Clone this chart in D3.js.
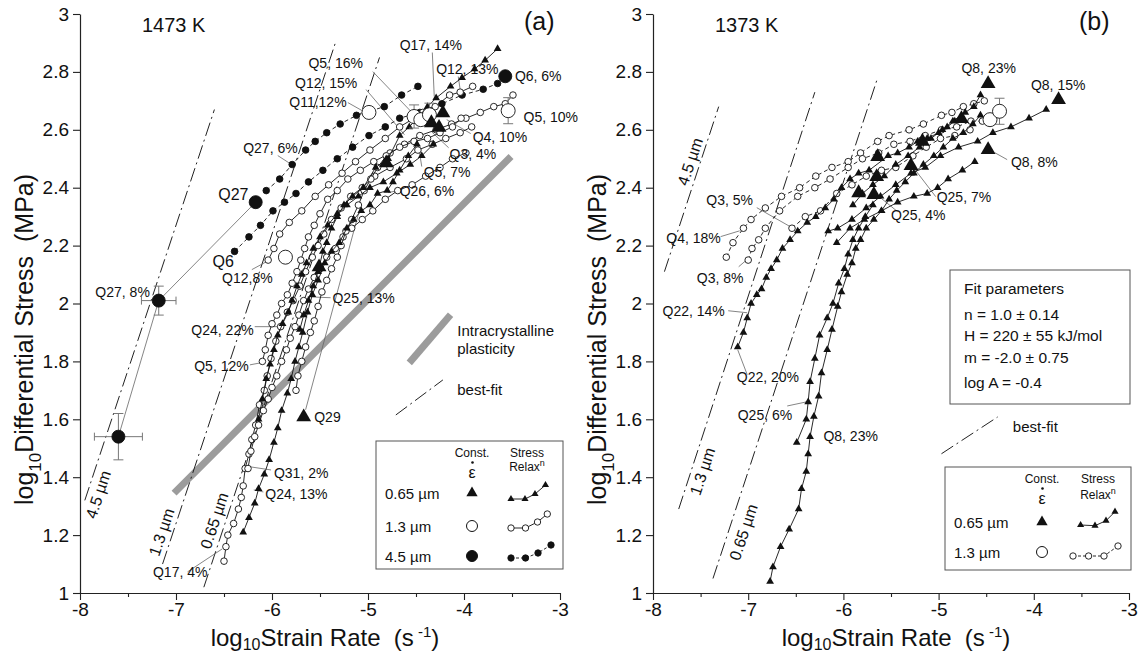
<!DOCTYPE html>
<html>
<head>
<meta charset="utf-8">
<script src="https://cdn.jsdelivr.net/npm/d3@7/dist/d3.min.js"></script>
<style>
  body { margin: 0; background: #fff; }
  svg { font-family: "Liberation Sans", Arial, Helvetica, sans-serif; }
</style>
</head>
<body>
<svg id="fig"></svg>
<script>
const x_ticks = [-8, -7.5, -7, -6.5, -6, -5.5, -5, -4.5, -4, -3.5, -3];
const y_ticks = [1, 1.2, 1.4, 1.6, 1.8, 2, 2.2, 2.4, 2.6, 2.8, 3];

// ---- (a) 1473 K ----
// stress relaxation runs, 4.5 um (filled dots, dashed)
const a_q27_6 = [[-6.06,2.39],[-5.92,2.43],[-5.79,2.48],[-5.65,2.53],[-5.55,2.56],[-5.43,2.59],[-5.29,2.62],[-5.12,2.65],[-4.83,2.68],[-4.65,2.72],[-4.48,2.75]];
const a_q6 = [[-6.39,2.18],[-6.24,2.23],[-6.12,2.27],[-5.99,2.32],[-5.87,2.35],[-5.75,2.38],[-5.62,2.42],[-5.47,2.46],[-5.32,2.50],[-5.16,2.54],[-4.99,2.58],[-4.82,2.61],[-4.67,2.64],[-4.46,2.66],[-4.23,2.69],[-4.02,2.72],[-3.80,2.74],[-3.65,2.76]];
// 1.3 um (open circles)
const a_q12_8 = [[-6.04,2.15],[-5.98,2.19],[-5.92,2.24],[-5.82,2.28],[-5.69,2.32],[-5.55,2.37],[-5.41,2.41],[-5.27,2.45],[-5.13,2.49],[-4.98,2.53],[-4.82,2.57],[-4.67,2.61],[-4.52,2.64],[-4.43,2.66],[-4.30,2.68],[-4.15,2.72],[-4.04,2.73],[-3.91,2.75]];
const a_q5_12 = [[-6.10,1.80],[-6.07,1.84],[-6.04,1.89],[-6.00,1.93],[-5.95,1.96],[-5.90,2.00],[-5.84,2.03],[-5.79,2.07],[-5.74,2.11],[-5.70,2.15],[-5.66,2.19],[-5.62,2.23],[-5.56,2.27],[-5.50,2.31],[-5.42,2.36],[-5.32,2.39],[-5.21,2.43],[-5.08,2.46],[-4.94,2.49],[-4.77,2.52],[-4.62,2.55],[-4.46,2.58],[-4.29,2.60],[-4.13,2.62],[-3.98,2.64],[-3.83,2.66],[-3.69,2.68],[-3.57,2.69],[-3.49,2.72]];
const a_q17_4 = [[-6.50,1.11],[-6.48,1.16],[-6.46,1.20],[-6.40,1.24],[-6.35,1.29],[-6.32,1.33],[-6.30,1.37],[-6.28,1.43],[-6.24,1.48],[-6.21,1.53],[-6.17,1.58],[-6.13,1.65],[-6.08,1.70],[-6.05,1.75],[-6.01,1.81],[-5.96,1.87],[-5.91,1.92],[-5.84,1.97],[-5.78,2.01],[-5.71,2.06],[-5.65,2.11],[-5.58,2.16],[-5.52,2.20],[-5.46,2.24],[-5.38,2.29],[-5.28,2.33],[-5.18,2.37],[-5.06,2.40],[-4.93,2.44],[-4.77,2.47],[-4.60,2.50],[-4.48,2.53],[-4.33,2.55],[-4.19,2.57],[-4.04,2.59],[-3.92,2.61]];
const a_q31_2 = [[-6.25,1.43],[-6.22,1.49],[-6.18,1.54],[-6.14,1.58],[-6.09,1.63],[-6.04,1.67],[-6.00,1.71],[-5.95,1.75],[-5.90,1.80],[-5.85,1.84],[-5.81,1.88],[-5.76,1.92],[-5.72,1.96],[-5.67,2.01],[-5.62,2.05],[-5.56,2.09],[-5.50,2.12],[-5.43,2.16],[-5.34,2.19],[-5.26,2.23],[-5.17,2.26],[-5.06,2.29],[-4.95,2.32],[-4.82,2.36],[-4.69,2.39],[-4.54,2.41],[-4.40,2.44],[-4.25,2.47],[-4.12,2.50],[-3.98,2.52]];
const a_q3_4 = [[-5.75,1.70],[-5.73,1.75],[-5.69,1.80],[-5.65,1.85],[-5.60,1.90],[-5.56,1.94],[-5.52,1.99],[-5.48,2.04],[-5.43,2.08],[-5.38,2.12],[-5.32,2.16],[-5.28,2.20],[-5.23,2.25],[-5.17,2.29],[-5.10,2.34],[-5.04,2.39],[-4.97,2.43],[-4.90,2.47],[-4.81,2.51],[-4.67,2.54],[-4.52,2.56],[-4.38,2.57],[-4.25,2.59],[-4.12,2.61],[-4.03,2.64]];
// 0.65 um (small triangles)
const a_q24_13 = [[-6.30,1.21],[-6.24,1.26],[-6.18,1.31],[-6.14,1.36],[-6.08,1.41],[-6.03,1.46],[-5.98,1.52],[-5.94,1.57],[-5.90,1.63],[-5.84,1.69],[-5.80,1.74],[-5.76,1.80],[-5.72,1.85],[-5.68,1.90],[-5.63,1.97],[-5.58,2.03],[-5.52,2.08],[-5.45,2.14],[-5.38,2.18],[-5.30,2.21],[-5.22,2.26],[-5.15,2.29],[-5.07,2.32],[-4.98,2.34],[-4.90,2.38],[-4.80,2.39],[-4.74,2.42],[-4.67,2.46],[-4.58,2.51],[-4.49,2.55]];
const a_q24_22 = [[-6.14,1.60],[-6.10,1.67],[-6.06,1.74],[-6.02,1.79],[-5.98,1.84],[-5.94,1.89],[-5.89,1.93],[-5.83,1.97],[-5.79,2.01],[-5.74,2.06],[-5.69,2.10],[-5.64,2.14],[-5.57,2.19],[-5.50,2.23],[-5.42,2.27],[-5.32,2.31],[-5.22,2.34],[-5.10,2.37],[-4.98,2.40],[-4.84,2.42],[-4.70,2.45],[-4.56,2.48],[-4.44,2.51],[-4.32,2.55]];
const a_q25_13 = [[-5.71,1.91],[-5.67,1.96],[-5.62,2.01],[-5.57,2.06],[-5.52,2.11],[-5.47,2.18],[-5.43,2.21],[-5.38,2.26],[-5.32,2.30],[-5.25,2.34],[-5.16,2.37],[-5.05,2.40],[-4.92,2.47],[-4.79,2.50],[-4.67,2.58],[-4.57,2.61],[-4.46,2.65],[-4.38,2.68],[-4.29,2.71],[-4.14,2.75],[-4.02,2.78],[-3.89,2.81],[-3.78,2.84],[-3.65,2.88]];
// constant strain-rate points
const a_const_dots = [[-6.17,2.35],[-3.57,2.785],[-7.18,2.01],[-7.60,1.54]];
const a_const_circles = [[-4.99,2.66],[-5.86,2.16],[-3.54,2.666],[-4.52,2.646],[-4.45,2.635],[-4.36,2.652]];
const a_const_tri = [[-4.22,2.658],[-4.34,2.624],[-4.26,2.608],[-4.81,2.485],[-5.51,2.126],[-5.67,1.608]];
// [x, y, xerr, yerr]
const a_err = [[-7.18,2.01,0.18,0.05],[-7.60,1.54,0.25,0.08],[-3.54,2.666,0,0.045],[-4.52,2.646,0,0.04],[-4.36,2.652,0,0.04]];

// ---- (b) 1373 K ----
const b_q8_23 = [[-6.77,1.04],[-6.74,1.09],[-6.66,1.16],[-6.57,1.22],[-6.47,1.29],[-6.44,1.36],[-6.39,1.42],[-6.37,1.48],[-6.35,1.54],[-6.31,1.61],[-6.26,1.68],[-6.23,1.76],[-6.17,1.84],[-6.12,1.91],[-6.06,1.99],[-6.02,2.04],[-5.96,2.10],[-5.91,2.14],[-5.87,2.19],[-5.82,2.22],[-5.76,2.26],[-5.68,2.29],[-5.60,2.32],[-5.52,2.36],[-5.44,2.39],[-5.35,2.42],[-5.26,2.45],[-5.16,2.48],[-5.05,2.51],[-4.95,2.54],[-4.85,2.57],[-4.74,2.59],[-4.64,2.62],[-4.56,2.65]];
const b_q25_6 = [[-6.49,1.52],[-6.39,1.60],[-6.37,1.66],[-6.35,1.73],[-6.30,1.81],[-6.25,1.89],[-6.17,1.95],[-6.11,2.00],[-6.05,2.07],[-5.99,2.12],[-5.95,2.17],[-5.90,2.22],[-5.84,2.26],[-5.77,2.30],[-5.69,2.34]];
const b_q22 = [[-7.11,1.85],[-7.05,1.90],[-7.01,1.95],[-6.97,2.00],[-6.91,2.03],[-6.86,2.05],[-6.81,2.09],[-6.76,2.12],[-6.70,2.15],[-6.64,2.19],[-6.56,2.22],[-6.48,2.25],[-6.38,2.28],[-6.29,2.30],[-6.19,2.33],[-6.10,2.36],[-6.02,2.40],[-5.93,2.43],[-5.84,2.45],[-5.73,2.46],[-5.53,2.51],[-5.43,2.52],[-5.31,2.54],[-5.22,2.56],[-5.12,2.57],[-5.00,2.59],[-4.91,2.61],[-4.83,2.63]];
const b_q8_top = [[-5.90,2.34],[-5.80,2.38],[-5.69,2.41],[-5.57,2.44],[-5.45,2.48],[-5.32,2.51],[-5.20,2.54],[-5.08,2.57],[-4.96,2.60],[-4.85,2.63],[-4.72,2.66],[-4.63,2.68],[-4.56,2.72]];
const b_q8_15 = [[-6.16,2.25],[-6.06,2.26],[-5.91,2.29],[-5.76,2.33],[-5.61,2.37],[-5.45,2.41],[-5.29,2.45],[-5.14,2.47],[-4.98,2.51],[-4.79,2.54],[-4.59,2.56],[-4.43,2.59],[-4.24,2.61],[-4.05,2.64],[-3.87,2.67]];
const b_q8_8 = [[-6.07,2.21],[-5.93,2.26],[-5.78,2.29],[-5.60,2.32],[-5.43,2.35],[-5.26,2.37],[-5.12,2.38],[-5.01,2.40],[-4.90,2.43],[-4.75,2.46],[-4.62,2.49]];
const b_q4_18 = [[-7.23,2.16],[-7.16,2.21],[-7.05,2.26],[-6.97,2.29],[-6.82,2.33],[-6.65,2.37],[-6.46,2.40],[-6.29,2.44],[-6.12,2.47],[-5.95,2.49],[-5.82,2.52],[-5.64,2.56],[-5.52,2.58],[-5.31,2.60],[-5.16,2.62],[-4.97,2.65],[-4.86,2.66],[-4.74,2.68],[-4.63,2.69],[-4.52,2.70]];
const b_q3_8 = [[-7.00,2.15],[-6.96,2.19],[-6.89,2.22],[-6.82,2.26],[-6.67,2.32],[-6.48,2.37],[-6.30,2.40],[-6.14,2.43],[-5.95,2.47],[-5.80,2.50],[-5.63,2.52],[-5.47,2.55],[-5.30,2.56],[-5.14,2.58],[-4.97,2.60],[-4.81,2.61],[-4.66,2.63],[-4.54,2.63]];
const b_q3_5 = [[-6.54,2.26],[-6.40,2.30],[-6.24,2.32],[-6.07,2.38],[-5.91,2.41],[-5.76,2.44],[-5.60,2.46],[-5.45,2.47],[-5.27,2.51],[-5.13,2.54],[-4.98,2.57],[-4.83,2.58],[-4.67,2.60]];
const b_const_tri = [[-5.84,2.382],[-5.68,2.376],[-5.65,2.438],[-5.64,2.507],[-5.29,2.476],[-5.17,2.56],[-4.76,2.638],[-4.48,2.759],[-3.74,2.704],[-4.48,2.531]];
const b_const_circles = [[-4.46,2.635],[-4.36,2.664]];
const b_err = [[-4.36,2.664,0,0.045]];

// best-fit lines (n = 1) and the plasticity band, end points
const a_fits = [
    {name: '4.5\u00a0\u00b5m', ends: [[-7.95,1.32],[-6.60,2.67]], at: [-7.81,1.34]},
    {name: '1.3\u00a0\u00b5m', ends: [[-7.14,1.10],[-5.34,2.90]], at: [-7.15,1.21]},
    {name: '0.65\u00a0\u00b5m', ends: [[-6.71,1.02],[-4.88,2.85]], at: [-6.60,1.25]}
];
const b_fits = [
    {name: '4.5\u00a0\u00b5m', ends: [[-7.88,2.11],[-7.31,2.68]], at: [-7.61,2.49]},
    {name: '1.3\u00a0\u00b5m', ends: [[-7.73,1.29],[-6.30,2.73]], at: [-7.48,1.42]},
    {name: '0.65\u00a0\u00b5m', ends: [[-7.37,1.05],[-5.64,2.78]], at: [-7.05,1.21]}
];
const a_plastic = [[-7.02,1.345],[-3.51,2.508]];

const a_labels = [
    ['Q17, 14%',-4.67,2.894],['Q5, 16%',-5.62,2.832],['Q12, 13%',-4.29,2.811],['Q6, 6%',-3.47,2.787],
    ['Q12, 15%',-5.76,2.763],['Q11,12%',-5.82,2.697],['Q5, 10%',-3.38,2.645],['Q4, 10%',-3.91,2.576],
    ['Q27, 6%',-6.30,2.538],['Q3, 4%',-4.15,2.517],['Q5, 7%',-4.42,2.455],['Q27',-6.56,2.376,16],
    ['Q26, 6%',-4.67,2.390],['Q6',-6.62,2.144,16],['Q12,8%',-6.52,2.089],['Q27, 8%',-7.84,2.040],
    ['Q25, 13%',-5.37,2.020],['Q24, 22%',-6.84,1.909],['Q5, 12%',-6.81,1.785],['Q29',-5.56,1.608],
    ['Q31, 2%',-5.98,1.415],['Q24, 13%',-6.07,1.342],['Q17, 4%',-7.24,1.072]
];
const a_leaders = [
    [-4.33,2.867,-4.31,2.715],[-4.95,2.801,-4.52,2.652],[-4.06,2.784,-4.04,2.739],[-5.02,2.739,-4.62,2.583],
    [-5.21,2.694,-5.06,2.666],[-3.93,2.587,-4.18,2.635],[-5.94,2.511,-5.81,2.483],[-4.16,2.538,-4.34,2.594],
    [-4.44,2.473,-4.48,2.556],[-4.69,2.390,-4.79,2.383],[-6.21,2.117,-6.06,2.144],[-5.39,2.020,-5.63,2.023],
    [-6.18,1.920,-5.88,1.920],[-6.23,1.788,-6.12,1.795],[-6.01,1.425,-6.23,1.436],[-6.09,1.349,-6.19,1.356],
    [-6.88,1.073,-6.52,1.152],[-5.65,1.633,-5.08,2.334],
    [-7.60,1.54,-7.18,2.01],[-7.18,2.01,-6.17,2.35]
];
const b_labels = [
    ['Q8, 23%',-4.76,2.815],['Q8, 15%',-4.03,2.756],['Q8, 8%',-4.24,2.490],['Q25, 7%',-5.02,2.369],
    ['Q25, 4%',-5.50,2.307],['Q3, 5%',-7.44,2.358],['Q4, 18%',-7.86,2.227],['Q3, 8%',-7.54,2.089],
    ['Q22, 14%',-7.90,1.975],['Q22, 20%',-7.12,1.747],['Q25, 6%',-7.11,1.615],['Q8, 23%',-6.21,1.543]
];
const b_leaders = [
    [-4.28,2.497,-4.41,2.521],[-5.03,2.369,-5.27,2.472],[-5.43,2.317,-5.65,2.376],[-6.91,2.331,-6.54,2.262],
    [-7.29,2.231,-7.09,2.251],[-7.10,2.127,-6.99,2.158],[-7.21,1.975,-7.01,1.968],[-7.01,1.754,-7.11,1.840],
    [-6.59,1.646,-6.39,1.660]
];

class RatePanel {
    constructor (config, data) {
        this.config = {
            parent: config.parent,
            left: config.left,
            top: config.top,
            width: config.width,
            height: config.height,
            temp: config.temp,
            tag: config.tag,
            tag_x: config.tag_x
        };
        this.data = data;
        this.init();
    }

    init() {
        let self = this;
        const c = self.config;

        self.chart = d3.select(c.parent).append('g')
            .attr('transform', `translate(${c.left}, ${c.top})`);

        self.xscale = d3.scaleLinear().domain([-8, -3]).range([0, c.width]);
        self.yscale = d3.scaleLinear().domain([1, 3]).range([c.height, 0]);
        self.line = d3.line().x(d => self.xscale(d[0])).y(d => self.yscale(d[1]));

        self.xaxis = d3.axisBottom(self.xscale)
            .tickValues(x_ticks)
            .tickSize(7).tickSizeOuter(0).tickPadding(3)
            .tickFormat(d => Number.isInteger(d) ? String(d) : '');
        self.yaxis = d3.axisLeft(self.yscale)
            .tickValues(y_ticks)
            .tickSize(7).tickSizeOuter(0).tickPadding(4)
            .tickFormat(d => String(+d.toFixed(1)));

        const xg = self.chart.append('g')
            .attr('transform', `translate(0, ${c.height})`)
            .call(self.xaxis);
        xg.selectAll('.tick').filter(d => !Number.isInteger(d)).select('line').attr('y2', 4);
        const yg = self.chart.append('g').call(self.yaxis);
        [xg, yg].forEach(g => {
            g.select('.domain').attr('stroke', '#222').attr('stroke-width', 1.2);
            g.selectAll('line').attr('stroke', '#222').attr('stroke-width', 1.1);
            g.selectAll('text').attr('font-size', 19).attr('fill', '#111')
                .attr('font-family', '"Liberation Sans", Arial, sans-serif');
        });

        const xt = self.chart.append('text')
            .attr('x', c.width / 2 + 5).attr('y', c.height + 53)
            .attr('text-anchor', 'middle').attr('font-size', 24).attr('fill', '#111');
        xt.append('tspan').text('log');
        xt.append('tspan').attr('font-size', 16).attr('dy', 4).text('10');
        xt.append('tspan').attr('dy', -4).text('Strain Rate\u00a0\u00a0(s');
        xt.append('tspan').attr('font-size', 15).attr('dy', -9).text('\u00a0-1');
        xt.append('tspan').attr('dy', 9).text(')');

        const yt = self.chart.append('text')
            .attr('transform', `translate(-47, ${c.height / 2 + 36}) rotate(-90)`)
            .attr('text-anchor', 'middle').attr('font-size', 25).attr('fill', '#111');
        yt.append('tspan').text('log');
        yt.append('tspan').attr('font-size', 17).attr('dy', 8).text('10');
        yt.append('tspan').attr('dy', -8).text('Differential Stress\u00a0\u00a0(MPa)');

        self.chart.append('text').attr('x', 62).attr('y', 11)
            .attr('dominant-baseline', 'central').attr('font-size', 20).attr('fill', '#111')
            .text(c.temp);
        self.chart.append('text').attr('x', c.tag_x).attr('y', 7)
            .attr('dominant-baseline', 'central').attr('font-size', 25).attr('fill', '#111')
            .text(c.tag);
    }

    symbols(g, pts, sym, big) {
        let self = this;
        if (sym === 'tri') {
            g.selectAll(null).data(pts).join('path')
                .attr('transform', d => `translate(${self.xscale(d[0])}, ${self.yscale(d[1])})`)
                .attr('d', d3.symbol(d3.symbolTriangle, big ? 95 : 26))
                .attr('fill', '#111');
        } else {
            g.selectAll(null).data(pts).join('circle')
                .attr('cx', d => self.xscale(d[0]))
                .attr('cy', d => self.yscale(d[1]))
                .attr('r', big ? (sym === 'dot' ? 6.5 : 7) : 3.3)
                .attr('fill', sym === 'dot' ? '#111' : '#fff')
                .attr('stroke', '#111').attr('stroke-width', 0.9);
        }
    }

    render() {
        let self = this;
        const d = self.data;
        const xs = self.xscale, ys = self.yscale;

        if (d.plastic) {
            self.chart.append('path').datum(d.plastic).attr('d', self.line)
                .attr('fill', 'none').attr('stroke', '#9c9c9c').attr('stroke-width', 7);
        }

        d.fits.forEach(f => {
            self.chart.append('path').datum(f.ends).attr('d', self.line)
                .attr('fill', 'none').attr('stroke', '#222').attr('stroke-width', 1)
                .attr('stroke-dasharray', '14,4,2,4');
            self.chart.append('text')
                .attr('transform', `translate(${xs(f.at[0])}, ${ys(f.at[1])}) rotate(-71.6)`)
                .attr('text-anchor', 'middle').attr('dominant-baseline', 'central')
                .attr('font-size', 16).attr('fill', '#111').text(f.name);
        });

        self.chart.selectAll('.leader').data(d.leaders).join('line')
            .attr('class', 'leader')
            .attr('x1', l => xs(l[0])).attr('y1', l => ys(l[1]))
            .attr('x2', l => xs(l[2])).attr('y2', l => ys(l[3]))
            .attr('stroke', '#666').attr('stroke-width', 0.8);

        d.runs.forEach(r => {
            self.chart.append('path').datum(r.pts).attr('d', self.line)
                .attr('fill', 'none').attr('stroke', '#111').attr('stroke-width', 0.9)
                .attr('stroke-dasharray', r.dashed ? '4,3' : null);
            self.symbols(self.chart.append('g'), r.pts, r.sym, false);
        });

        d.err.forEach(e => {
            const g = self.chart.append('g').attr('stroke', '#777').attr('stroke-width', 1);
            if (e[2] > 0) {
                g.append('line').attr('x1', xs(e[0] - e[2])).attr('x2', xs(e[0] + e[2]))
                    .attr('y1', ys(e[1])).attr('y2', ys(e[1]));
                [e[0] - e[2], e[0] + e[2]].forEach(v => g.append('line')
                    .attr('x1', xs(v)).attr('x2', xs(v)).attr('y1', ys(e[1]) - 4).attr('y2', ys(e[1]) + 4));
            }
            g.append('line').attr('x1', xs(e[0])).attr('x2', xs(e[0]))
                .attr('y1', ys(e[1] - e[3])).attr('y2', ys(e[1] + e[3]));
            [e[1] - e[3], e[1] + e[3]].forEach(v => g.append('line')
                .attr('x1', xs(e[0]) - 5).attr('x2', xs(e[0]) + 5).attr('y1', ys(v)).attr('y2', ys(v)));
        });

        d.big.forEach(b => self.symbols(self.chart.append('g'), b.pts, b.sym, true));

        self.chart.selectAll('.qlabel').data(d.labels).join('text')
            .attr('class', 'qlabel')
            .attr('x', l => xs(l[1])).attr('y', l => ys(l[2]))
            .attr('dominant-baseline', 'central')
            .attr('font-size', l => l[3] || 14).attr('fill', '#111')
            .text(l => l[0]);
    }
}

const svg = d3.select('#fig').attr('width', 1143).attr('height', 654);
svg.append('rect').attr('width', 1143).attr('height', 654).attr('fill', '#fff');

const panel_a = new RatePanel({
    parent: '#fig', left: 80, top: 14, width: 480, height: 579,
    temp: '1473 K', tag: '(a)', tag_x: 444
}, {
    plastic: a_plastic,
    fits: a_fits,
    leaders: a_leaders,
    runs: [
        {pts: a_q27_6, sym: 'dot', dashed: true},
        {pts: a_q6, sym: 'dot', dashed: true},
        {pts: a_q12_8, sym: 'circle'},
        {pts: a_q5_12, sym: 'circle'},
        {pts: a_q17_4, sym: 'circle'},
        {pts: a_q31_2, sym: 'circle'},
        {pts: a_q3_4, sym: 'circle'},
        {pts: a_q24_13, sym: 'tri'},
        {pts: a_q24_22, sym: 'tri'},
        {pts: a_q25_13, sym: 'tri'}
    ],
    big: [
        {pts: a_const_dots, sym: 'dot'},
        {pts: a_const_circles, sym: 'circle'},
        {pts: a_const_tri, sym: 'tri'}
    ],
    err: a_err,
    labels: a_labels
});
panel_a.render();

const panel_b = new RatePanel({
    parent: '#fig', left: 653, top: 14, width: 476, height: 579,
    temp: '1373 K', tag: '(b)', tag_x: 426
}, {
    fits: b_fits,
    leaders: b_leaders,
    runs: [
        {pts: b_q4_18, sym: 'circle', dashed: true},
        {pts: b_q3_8, sym: 'circle', dashed: true},
        {pts: b_q3_5, sym: 'circle', dashed: true},
        {pts: b_q8_23, sym: 'tri'},
        {pts: b_q25_6, sym: 'tri'},
        {pts: b_q22, sym: 'tri'},
        {pts: b_q8_top, sym: 'tri'},
        {pts: b_q8_15, sym: 'tri'},
        {pts: b_q8_8, sym: 'tri'}
    ],
    big: [
        {pts: b_const_tri, sym: 'tri'},
        {pts: b_const_circles, sym: 'circle'}
    ],
    err: b_err,
    labels: b_labels
});
panel_b.render();

// side legends inside the plots (data coordinates)
function lineKey(panel, seg, style, texts) {
    const p = panel.chart.append('path').datum(seg).attr('d', panel.line).attr('fill', 'none');
    if (style === 'band') p.attr('stroke', '#9c9c9c').attr('stroke-width', 7);
    else p.attr('stroke', '#222').attr('stroke-width', 1).attr('stroke-dasharray', '14,4,2,4');
    texts.forEach(t => panel.chart.append('text')
        .attr('x', panel.xscale(t[1])).attr('y', panel.yscale(t[2]))
        .attr('dominant-baseline', 'central').attr('font-size', 15).attr('fill', '#111')
        .text(t[0]));
}
lineKey(panel_a, [[-4.57,1.795],[-4.14,1.961]], 'band', [['Intracrystalline',-4.07,1.906],['plasticity',-4.07,1.843]]);
lineKey(panel_a, [[-4.71,1.615],[-4.22,1.736]], 'fit', [['best-fit',-4.07,1.702]]);
lineKey(panel_b, [[-4.97,1.481],[-4.38,1.608]], 'fit', [['best-fit',-4.22,1.574]]);

// symbol legend boxes
function symbolLegend(x0, y0, w, h, rows, head) {
    const g = svg.append('g').attr('transform', `translate(${x0}, ${y0})`);
    g.append('rect').attr('width', w).attr('height', h)
        .attr('fill', '#fff').attr('stroke', '#555').attr('stroke-width', 1);
    const small = (t, x, y) => g.append('text').attr('x', x).attr('y', y)
        .attr('text-anchor', 'middle').attr('dominant-baseline', 'central')
        .attr('font-size', 12).attr('fill', '#111').text(t);
    small('Const.', head[0], 12);
    g.append('text').attr('x', head[0]).attr('y', 31).attr('text-anchor', 'middle')
        .attr('dominant-baseline', 'central').attr('font-size', 16).attr('fill', '#111').text('\u03b5');
    g.append('circle').attr('cx', head[0] + 0.5).attr('cy', 21.5).attr('r', 1.3).attr('fill', '#111');
    small('Stress', head[1], 12);
    const rl = small('Relax', head[1], head[2]);
    rl.append('tspan').attr('font-size', 9).attr('dy', -4).text('n');

    rows.forEach(r => {
        g.append('text').attr('x', 9).attr('y', r.y).attr('dominant-baseline', 'central')
            .attr('font-size', 15).attr('fill', '#111').text(r.label);
        if (r.sym === 'tri') {
            g.append('path').attr('transform', `translate(${head[0]}, ${r.y})`)
                .attr('d', d3.symbol(d3.symbolTriangle, 55)).attr('fill', '#111');
        } else {
            g.append('circle').attr('cx', head[0]).attr('cy', r.y).attr('r', 5.5)
                .attr('fill', r.sym === 'dot' ? '#111' : '#fff').attr('stroke', '#111');
        }
        g.append('path').datum(r.mini).attr('d', d3.line())
            .attr('fill', 'none').attr('stroke', '#111').attr('stroke-width', 0.9)
            .attr('stroke-dasharray', r.dashed ? '3,2' : null);
        if (r.sym === 'tri') {
            g.selectAll(null).data(r.mini).join('path')
                .attr('transform', d => `translate(${d[0]}, ${d[1]})`)
                .attr('d', d3.symbol(d3.symbolTriangle, 22)).attr('fill', '#111');
        } else {
            g.selectAll(null).data(r.mini).join('circle')
                .attr('cx', d => d[0]).attr('cy', d => d[1]).attr('r', 3.2)
                .attr('fill', r.sym === 'dot' ? '#111' : '#fff').attr('stroke', '#111').attr('stroke-width', 0.9);
        }
    });
}

symbolLegend(376, 441, 187, 128, [
    {label: '0.65\u00a0\u00b5m', sym: 'tri', y: 52, mini: [[135,58],[149,58],[159,53],[169.5,44]]},
    {label: '1.3\u00a0\u00b5m', sym: 'circle', y: 85, mini: [[135,87],[149.5,87],[161.5,81],[171.3,73]]},
    {label: '4.5\u00a0\u00b5m', sym: 'dot', y: 115, mini: [[135,117],[149.5,117],[162,112],[175,104]], dashed: true}
], [96, 151, 26]);

symbolLegend(945, 467, 186, 103, [
    {label: '0.65\u00a0\u00b5m', sym: 'tri', y: 55, mini: [[135.6,58],[150,58.7],[161,53.7],[170,44.7]]},
    {label: '1.3\u00a0\u00b5m', sym: 'circle', y: 85, mini: [[128,89],[143.6,89],[159,89],[173,79]], dashed: true}
], [97, 153, 28]);

// fit parameter box
const fit_lines = ['Fit parameters', 'n = 1.0 \u00b1 0.14', 'H = 220 \u00b1 55 kJ/mol', 'm = -2.0 \u00b1 0.75', 'log A = -0.4'];
const fit_y = [18, 44, 65, 87, 112];
const fb = svg.append('g').attr('transform', 'translate(950, 270)');
fb.append('rect').attr('width', 180).attr('height', 134)
    .attr('fill', '#fff').attr('stroke', '#555').attr('stroke-width', 1);
fb.selectAll('text').data(fit_lines).join('text')
    .attr('x', 14).attr('y', (t, i) => fit_y[i])
    .attr('dominant-baseline', 'central').attr('font-size', 15.5).attr('fill', '#111')
    .text(t => t);
</script>
</body>
</html>
